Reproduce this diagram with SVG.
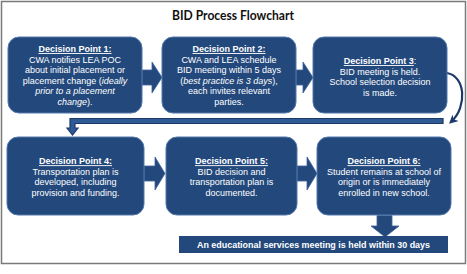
<svg xmlns="http://www.w3.org/2000/svg" width="467" height="274" viewBox="0 0 467 274">
<defs>
<style>
.box{fill:#23497c;stroke:#5578aa;stroke-width:1}
.blk{fill:#23497c;stroke:#3d63a0;stroke-width:0.8}
.t{font-family:"Liberation Sans",Arial,sans-serif;font-size:9px;fill:#ffffff;text-anchor:middle}
.h{font-weight:bold;text-decoration:underline}
.i{font-style:italic}
</style>
<marker id="ah" viewBox="0 0 10 10" refX="7" refY="5" markerWidth="4" markerHeight="4" orient="auto" markerUnits="strokeWidth">
<path d="M0,0 L10,5 L0,10 L3,5 Z" fill="#1b3a6b"/>
</marker>
</defs>
<rect x="0" y="0" width="467" height="274" fill="#ffffff"/>
<rect x="1.5" y="1.5" width="464" height="262" fill="none" stroke="#7a7a7a" stroke-width="1.5"/>
<text x="233" y="19.5" font-family="Lato,'Open Sans',sans-serif" font-weight="bold" font-size="12.5" fill="#111" text-anchor="middle" textLength="122" lengthAdjust="spacingAndGlyphs">BID Process Flowchart</text>

<g id="connectors">
<path class="blk" d="M142,70 H152 V62 L162,77.5 L152,93 V85 H142 Z"/>
<path class="blk" d="M296,70 H303 V62 L313,77.5 L303,93 V85 H296 Z"/>
<path d="M447,73 C465,76 468,106 451,122" fill="none" stroke="#1b3a6b" stroke-width="2.2" marker-end="url(#ah)"/>
<path d="M443,118.5 H70 V128 H67 L72.5,135 L78,128 H75 V123.5 H443 Z" fill="#2f5a94" stroke="#1b3a6b" stroke-width="1.2"/>
<path class="blk" d="M144,166 H155 V157 L165,173.5 L155,190 V181 H144 Z"/>
<path class="blk" d="M297,166 H307 V157 L317,173.5 L307,190 V181 H297 Z"/>
<path class="blk" d="M377,215.5 H392 V226 H399 L385,237 L371,226 H377 Z"/>
</g>

<g id="dp1">
<rect class="box" x="8" y="37" width="134" height="76" rx="11"/>
<text class="t" x="75" y="52"><tspan class="h">Decision Point 1:</tspan></text>
<text class="t" x="75" y="62.6">CWA notifies LEA POC</text>
<text class="t" x="75" y="73.2">about initial placement or</text>
<text class="t" x="75" y="83.8">placement change (<tspan class="i">ideally</tspan></text>
<text class="t i" x="75" y="94.4">prior to a placement</text>
<text class="t" x="75" y="105"><tspan class="i">change</tspan>).</text>
</g>

<g id="dp2">
<rect class="box" x="162" y="37" width="134" height="76" rx="11"/>
<text class="t" x="229" y="52"><tspan class="h">Decision Point 2:</tspan></text>
<text class="t" x="229" y="62.6">CWA and LEA schedule</text>
<text class="t" x="229" y="73.2">BID meeting within 5 days</text>
<text class="t" x="229" y="83.8">(<tspan class="i">best practice is 3 days</tspan>),</text>
<text class="t" x="229" y="94.4">each invites relevant</text>
<text class="t" x="229" y="105">parties.</text>
</g>

<g id="dp3">
<rect class="box" x="313" y="37" width="134" height="76" rx="11"/>
<text class="t" x="380" y="64"><tspan class="h">Decision Point 3</tspan>:</text>
<text class="t" x="380" y="74.5">BID meeting is held.</text>
<text class="t" x="380" y="85">School selection decision</text>
<text class="t" x="380" y="95.5">is made.</text>
</g>

<g id="dp4">
<rect class="box" x="7" y="137" width="137" height="78" rx="11"/>
<text class="t" x="75.5" y="164.2"><tspan class="h">Decision Point 4:</tspan></text>
<text class="t" x="75.5" y="174.8">Transportation plan is</text>
<text class="t" x="75.5" y="185.4">developed, including</text>
<text class="t" x="75.5" y="196">provision and funding.</text>
</g>

<g id="dp5">
<rect class="box" x="166" y="137" width="131" height="78" rx="11"/>
<text class="t" x="231.5" y="164.2"><tspan class="h">Decision Point 5:</tspan></text>
<text class="t" x="231.5" y="174.8">BID decision and</text>
<text class="t" x="231.5" y="185.4">transportation plan is</text>
<text class="t" x="231.5" y="196">documented.</text>
</g>

<g id="dp6">
<rect class="box" x="317" y="137" width="134" height="78" rx="11"/>
<text class="t" x="384" y="164.2"><tspan class="h">Decision Point 6:</tspan></text>
<text class="t" x="384" y="174.8">Student remains at school of</text>
<text class="t" x="384" y="185.4">origin or is immediately</text>
<text class="t" x="384" y="196">enrolled in new school.</text>
</g>

<g id="meeting">
<rect x="179" y="236" width="269" height="17" fill="#23497c"/>
<text class="t" x="313.5" y="248" font-weight="bold" textLength="233" lengthAdjust="spacingAndGlyphs">An educational services meeting is held within 30 days</text>
</g>
</svg>
